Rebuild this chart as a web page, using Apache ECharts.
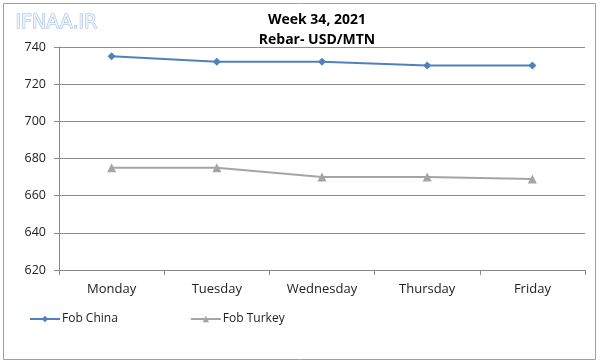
<!DOCTYPE html>
<html><head><meta charset="utf-8">
<script src="https://cdn.jsdelivr.net/npm/echarts@6/dist/echarts.min.js"></script>
<style>html,body{margin:0;padding:0;background:#fff}#c{width:600px;height:364px}</style>
</head><body><div id="c"></div>
<script>
var categories = ['Monday','Tuesday','Wednesday','Thursday','Friday'];
var fobChina = [735, 732, 732, 730, 730];
var fobTurkey = [675, 675, 670, 670, 669];
var yTicks = [620, 640, 660, 680, 700, 720, 740];

var FONT = '"Open Sans", sans-serif';
var chart = echarts.init(document.getElementById('c'));
chart.setOption({
  animation: false,
  backgroundColor: '#fff',
  graphic: [
    {type:'rect', shape:{x:3.5,y:3.5,width:592,height:356}, style:{fill:'none',stroke:'#a0a0a0',lineWidth:1}},
    {type:'text', left:15, top:13, style:{text:'IFNAA.IR', font:'19px "DejaVu Sans", sans-serif', fill:'#eef3fb', stroke:'#98b4e2', lineWidth:1}}
  ],
  title: {
    text: 'Week 34, 2021\nRebar- USD/MTN',
    left: 312, top: 5, textAlign: 'center',
    textStyle: {fontFamily: FONT, fontSize: 14, fontWeight: 'bold', color: '#000', lineHeight: 20}
  },
  legend: {
    left: 24, top: 308, itemGap: 72, itemWidth: 30, itemHeight: 8,
    textStyle: {fontFamily: FONT, fontSize: 12, color: '#222', padding:[0,0,0,-3]},
    data: ['Fob China', 'Fob Turkey']
  },
  grid: {left: 59, right: 15, top: 47, bottom: 94},
  xAxis: {
    type: 'category', data: categories, boundaryGap: true,
    axisLine: {lineStyle: {color: '#888'}},
    axisTick: {show: true, length: 5, lineStyle: {color: '#888'}},
    axisLabel: {fontFamily: FONT, fontSize: 13, color: '#222', margin: 13}
  },
  yAxis: {
    type: 'value', min: yTicks[0], max: yTicks[yTicks.length-1], interval: 20,
    axisLine: {show: true, lineStyle: {color: '#888'}},
    axisTick: {show: true, length: 5, lineStyle: {color: '#888'}},
    splitLine: {lineStyle: {color: '#8c8c8c'}},
    axisLabel: {fontFamily: FONT, fontSize: 12.5, color: '#222', margin: 13}
  },
  series: [
    {name: 'Fob China', type: 'line', data: fobChina, symbol: 'diamond', symbolSize: 8,
     itemStyle: {color: '#4f81bd'}, lineStyle: {color: '#4f81bd', width: 2}},
    {name: 'Fob Turkey', type: 'line', data: fobTurkey, symbol: 'triangle', symbolSize: 9,
     itemStyle: {color: '#a5a5a5'}, lineStyle: {color: '#a5a5a5', width: 2}}
  ]
});
</script></body></html>
